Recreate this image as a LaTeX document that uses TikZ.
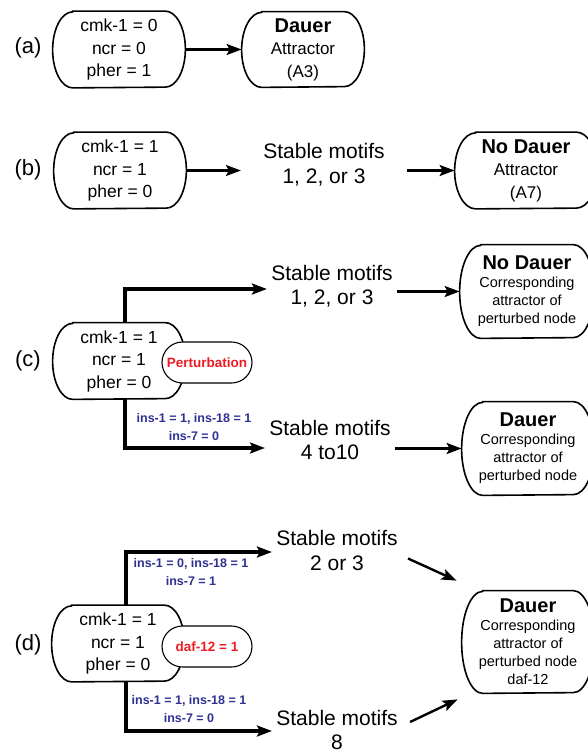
\documentclass[tikz,border=0pt]{standalone}
\usepackage{fontspec}
\setmainfont{Liberation Sans}
\usetikzlibrary{arrows.meta,calc,shapes.misc}

\definecolor{pertred}{RGB}{237,28,36}
\definecolor{condblue}{RGB}{46,49,146}

% outline with half-ellipse ends round a named node: name, x radius, y radius
\newcommand{\ovalline}[3]{%
  \draw [boxline] ($(#1.north west)+(#2,0)$) -- ($(#1.north east)+(-#2,0)$)
    arc[start angle=-90, end angle=90, x radius=#2, y radius=#3]
    -- ($(#1.south west)+(#2,0)$)
    arc[start angle=90, end angle=270, x radius=#2, y radius=#3] -- cycle;}

\tikzset{every picture/.style={line width=0.75pt}}
\tikzset{
  boxline/.style={line width=1.6pt},
  state/.style={minimum width=132pt, minimum height=76pt, inner sep=0pt, align=center, font=\fontsize{17.5}{22.5}\selectfont},
  result/.style={inner sep=0pt, align=center},
  pert/.style={draw, fill=white, line width=1.1pt, rounded rectangle, minimum width=90pt, minimum height=41pt, inner sep=0pt, text=pertred, font=\bfseries\fontsize{13.5}{16}\selectfont},
  motif/.style={align=center, inner xsep=4pt, inner ysep=0pt, font=\fontsize{21}{24.5}\selectfont},
  cond/.style={align=center, inner sep=0pt, text=condblue, font=\bfseries\fontsize{12.5}{18}\selectfont},
  panel/.style={inner sep=0pt, font=\fontsize{22}{24}\selectfont},
  arr/.style={-{Stealth[length=15pt,width=11pt,inset=3pt]}, line width=2.4pt},
  branch/.style={arr, line width=3.2pt}
}

\begin{document}
\begin{tikzpicture}[x=1pt,y=1pt,yscale=-1]
\useasboundingbox (0,0) rectangle (588,753);

% (a)
\node [panel] (la) at (28,48) {(a)};
\node [state] (astate) at (119,49.5) {cmk-1 = 0\\ncr = 0\\pher = 1};
\ovalline{astate}{20}{38}
\node [result, minimum width=122pt, minimum height=75pt, font=\fontsize{17}{22.5}\selectfont] (ares) at (303,49.5) {{\bfseries\fontsize{20}{22}\selectfont Dauer}\\Attractor\\(A3)};
\ovalline{ares}{20}{37.5}
\draw [arr] (astate.east) -- (ares.west);

% (b)
\node [panel] (lb) at (28,170) {(b)};
\node [state] (bstate) at (120,170.5) {cmk-1 = 1\\ncr = 1\\pher = 0};
\ovalline{bstate}{20}{38}
\node [motif, inner xsep=22pt] (bmotif) at (324,164.5) {Stable motifs\\1, 2, or 3};
\node [result, minimum width=142pt, minimum height=76pt, font=\fontsize{17}{22.5}\selectfont] (bres) at (526,170.5) {{\bfseries\fontsize{20}{22}\selectfont No Dauer}\\Attractor\\(A7)};
\ovalline{bres}{21}{38}
\draw [arr] (bstate.east) -- (bstate.east -| bmotif.west);
\draw [arr] (bmotif.east |- bres.west) -- (bres.west);

% (c)
\node [panel] (lc) at (28,361) {(c)};
\node [state] (cstate) at (119,361) {cmk-1 = 1\\ncr = 1\\pher = 0};
\ovalline{cstate}{20}{38}
\node [pert] (cpert) at (207,362.5) {Perturbation};
\node [motif] (cup) at (332,286) {Stable motifs\\1, 2, or 3};
\node [motif] (clow) at (330,440) {Stable motifs\\4 to10};
\node [result, minimum width=134pt, minimum height=93pt, font=\fontsize{14.5}{18}\selectfont] (cnd) at (527,291.5) {{\bfseries\fontsize{20}{22}\selectfont No Dauer}\\Corresponding\\attractor of\\perturbed node};
\ovalline{cnd}{21}{46.5}
\node [result, minimum width=132pt, minimum height=93pt, font=\fontsize{14.5}{18}\selectfont] (cd) at (528,448.5) {{\bfseries\fontsize{20}{22}\selectfont Dauer}\\Corresponding\\attractor of\\perturbed node};
\ovalline{cd}{21}{46.5}
\node [cond] (ccond) at (194,427) {ins-1 = 1, ins-18 = 1\\ins-7 = 0};
\draw [branch] ($(cstate.north)+(6,0)$) |- ($(cup.west)+(0,3)$);
\draw [branch] ($(cstate.south)+(6,0)$) |- ($(clow.west)+(0,8)$);
\draw [arr] (cup.east |- cnd.west) -- (cnd.west);
\draw [arr] (clow.east |- cd.west) -- (cd.west);

% (d)
\node [panel] (ld) at (28,645) {(d)};
\node [state] (dstate) at (118,643.5) {cmk-1 = 1\\ncr = 1\\pher = 0};
\ovalline{dstate}{20}{38}
\node [pert] (dpert) at (207,646.5) {daf-12 = 1};
\node [motif] (dup) at (337,550.5) {Stable motifs\\2 or 3};
\node [motif] (dlow) at (337,730) {Stable motifs\\8};
\node [result, minimum width=132pt, minimum height=102pt, font=\fontsize{14.5}{18}\selectfont] (dd) at (528,642) {{\bfseries\fontsize{20}{22}\selectfont Dauer}\\Corresponding\\attractor of\\perturbed node\\daf-12};
\ovalline{dd}{21}{51}
\node [cond] (dcondup) at (191,572.5) {ins-1 = 0, ins-18 = 1\\ins-7 = 1};
\node [cond] (dcondlow) at (189,709) {ins-1 = 1, ins-18 = 1\\ins-7 = 0};
\draw [branch] ($(dstate.north)+(8,0)$) |- ($(dup.west)+(0,1.5)$);
\draw [branch] ($(dstate.south)+(8,0)$) |- ($(dlow.west)+(0,1)$);
\draw [arr] ($(dup.east)+(6,8)$) -- ($(dd.north west)+(-5,-10)$);
\draw [arr] ($(dlow.east)+(8,-8)$) -- ($(dd.south west)+(-4,6)$);

\end{tikzpicture}
\end{document}
